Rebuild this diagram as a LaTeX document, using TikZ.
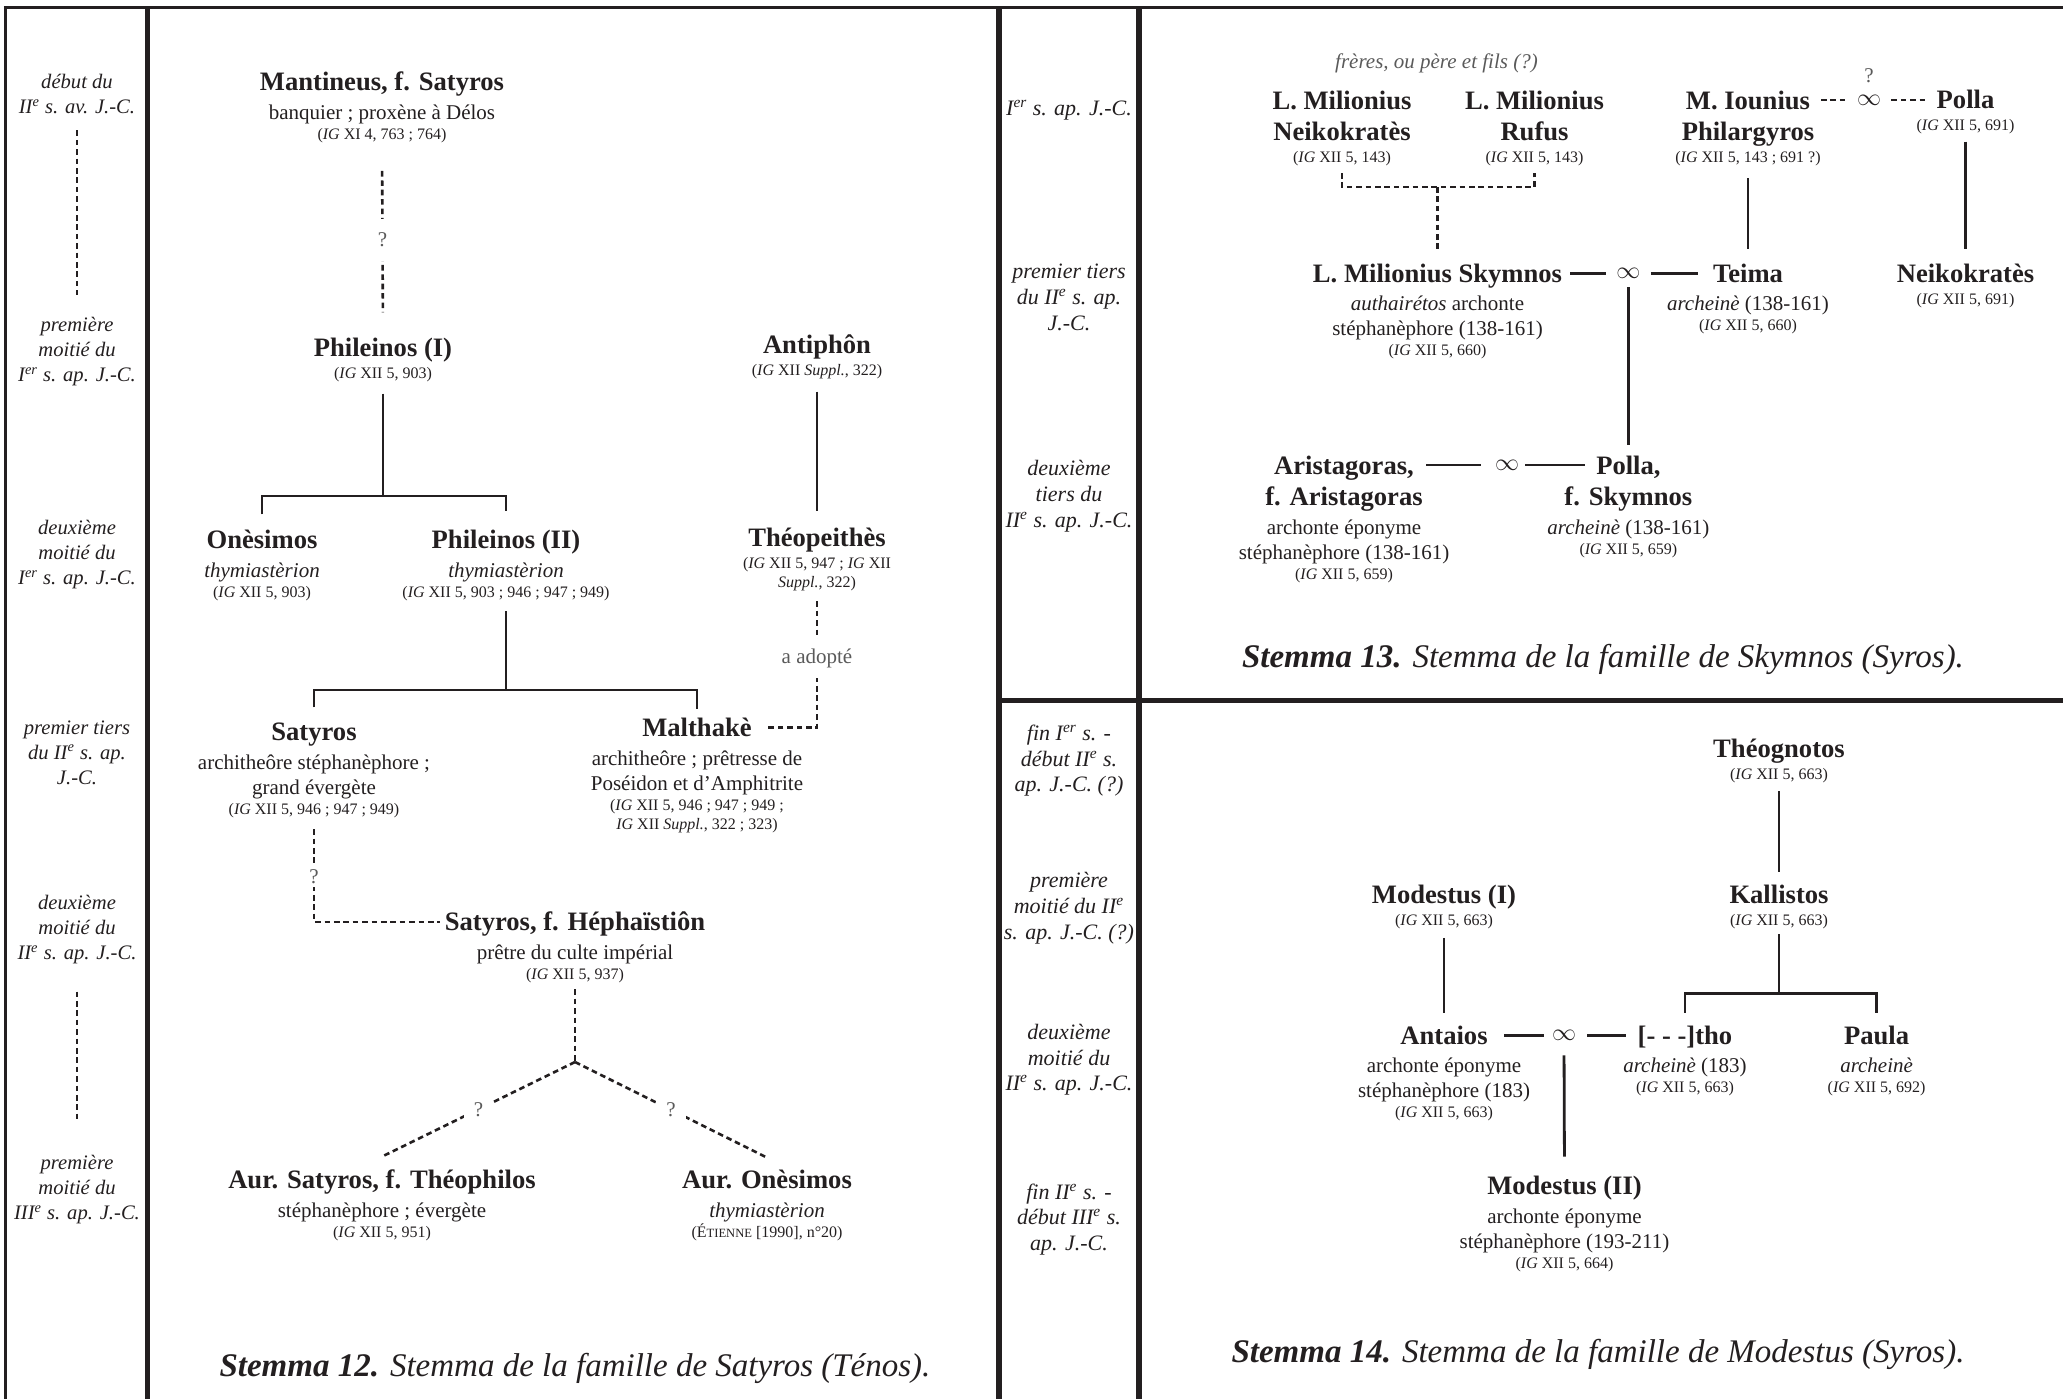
\documentclass[tikz,border=0pt]{standalone}
\usepackage{fontspec}
\setmainfont{Liberation Serif}
\usepackage{tikz}
\usetikzlibrary{positioning}
\definecolor{stink}{HTML}{231F20}
\definecolor{stgray}{HTML}{5A5A5A}
\newcommand{\nmfont}{\fontsize{13.3}{15.5}\selectfont\bfseries}
\newcommand{\dsfont}{\fontsize{10.5}{12.5}\selectfont}
\newcommand{\reff}{\fontsize{8}{12.5}\selectfont}
\newcommand{\IG}{\textit{IG}}
\newcommand{\sce}{\textsuperscript{e}}
\newcommand{\scer}{\textsuperscript{er}}
\tikzset{
  nm/.style={font=\nmfont,text=stink,inner sep=0pt,text height=9.5pt,text depth=0.7pt},
  nmm/.style={font=\nmfont,text=stink,inner sep=0pt,align=center,anchor=north},
  det/.style={font=\dsfont,text=stink,inner sep=0pt,align=center},
  datel/.style={font=\fontsize{10.3}{12.5}\selectfont\itshape,text=stink,inner sep=0pt,align=center,anchor=north},
  dater/.style={font=\fontsize{11}{12.9}\selectfont\itshape,text=stink,inner sep=0pt,align=center,anchor=north},
  inf/.style={font=\fontsize{12}{12}\selectfont,text=stink,inner sep=0pt},
  qm/.style={font=\fontsize{10.5}{12}\selectfont,text=stgray,fill=white,inner xsep=5pt,inner ysep=2pt},
  gnote/.style={font=\fontsize{10.5}{12}\selectfont\itshape,text=stgray,inner sep=0pt},
  capt/.style={font=\fontsize{16.5}{18}\selectfont\itshape,text=stink,inner sep=0pt},
  sline/.style={draw=stink,line width=1.4pt},
  dline/.style={draw=stink,line width=1.3pt,dash pattern=on 2.8pt off 1.9pt},
  bord/.style={draw=stink,line width=1.4pt},
  bordb/.style={draw=stink,line width=2.8pt},
}
\begin{document}
\begin{tikzpicture}[x=50pt,y=-50pt]
  \useasboundingbox (0,0) rectangle (20.63,13.99);
  \draw[bord] (0.04,0.075) -- (20.63,0.075);
  \draw[bord] (0.055,0.075) -- (0.055,13.99);
  \draw[bordb] (1.475,0.075) -- (1.475,13.99);
  \draw[bordb] (9.99,0.075) -- (9.99,13.99);
  \draw[bordb] (11.39,0.075) -- (11.39,13.99);
  \draw[bordb] (9.99,7.005) -- (20.63,7.005);

  \node[datel] (d12a) at (0.77,0.74) {début du\\II\sce{} s. av. J.-C.};
  \node[datel] (d12b) at (0.77,3.17) {première\\moitié du\\I\scer{} s. ap. J.-C.};
  \node[datel] (d12c) at (0.77,5.20) {deuxième\\moitié du\\I\scer{} s. ap. J.-C.};
  \node[datel] (d12d) at (0.77,7.20) {premier tiers\\du II\sce{} s. ap.\\J.-C.};
  \node[datel] (d12e) at (0.77,8.95) {deuxième\\moitié du\\II\sce{} s. ap. J.-C.};
  \node[datel] (d12f) at (0.77,11.55) {première\\moitié du\\III\sce{} s. ap. J.-C.};
  \draw[dline,shorten <=8pt,shorten >=11pt] (d12a.south) -- (d12b.north);
  \draw[dline,shorten <=13.5pt,shorten >=16pt] (d12e.south) -- (d12f.north);

  \node[nm] (mant) at (3.82,0.82) {Mantineus, f. Satyros};
  \node[det,below=5.75pt of mant] (mant-d) {banquier ; proxène à Délos\\[-2.5pt]\reff(\IG{} XI 4, 763 ; 764)};
  \node[nm] (phil1) at (3.83,3.48) {Phileinos (I)};
  \node[det,below=4.3pt of phil1] (phil1-d) {\reff(\IG{} XII 5, 903)};
  \node[nm] (antiph) at (8.17,3.45) {Antiphôn};
  \node[det,below=4.3pt of antiph] (antiph-d) {\reff(\IG{} XII \textit{Suppl.}, 322)};
  \node[nm] (onesi) at (2.62,5.40) {Onèsimos};
  \node[det,below=5.75pt of onesi] (onesi-d) {\textit{thymiastèrion}\\[-2.5pt]\reff(\IG{} XII 5, 903)};
  \node[nm] (phil2) at (5.06,5.40) {Phileinos (II)};
  \node[det,below=5.75pt of phil2] (phil2-d) {\textit{thymiastèrion}\\[-2.5pt]\reff(\IG{} XII 5, 903 ; 946 ; 947 ; 949)};
  \node[nm] (theop) at (8.17,5.38) {Théopeithès};
  \node[det,below=4.3pt of theop] (theop-d) {\reff(\IG{} XII 5, 947 ; \IG{} XII\\[-3pt]\reff\textit{Suppl.}, 322)};
  \node[nm] (satyr) at (3.14,7.32) {Satyros};
  \node[det,below=5.75pt of satyr] (satyr-d) {architheôre stéphanèphore ;\\grand évergète\\[-2.5pt]\reff(\IG{} XII 5, 946 ; 947 ; 949)};
  \node[nm] (malth) at (6.97,7.28) {Malthakè};
  \node[det,below=5.75pt of malth] (malth-d) {architheôre ; prêtresse de\\Poséidon et d'Amphitrite\\[-2.5pt]\reff(\IG{} XII 5, 946 ; 947 ; 949 ;\\[-3pt]\reff\IG{} XII \textit{Suppl.}, 322 ; 323)};
  \node[nm] (heph) at (5.75,9.22) {Satyros, f. Héphaïstiôn};
  \node[det,below=5.75pt of heph] (heph-d) {prêtre du culte impérial\\[-2.5pt]\reff(\IG{} XII 5, 937)};
  \node[nm] (aursat) at (3.82,11.80) {Aur. Satyros, f. Théophilos};
  \node[det,below=5.75pt of aursat] (aursat-d) {stéphanèphore ; évergète\\[-2.5pt]\reff(\IG{} XII 5, 951)};
  \node[nm] (auron) at (7.67,11.80) {Aur. Onèsimos};
  \node[det,below=5.75pt of auron] (auron-d) {\textit{thymiastèrion}\\[-2.5pt]\reff(É{\fontsize{6.3}{12.5}\selectfont TIENNE} [1990], n°20)};

  \draw[dline,shorten <=14pt,shorten >=12.5pt] (mant-d.south) -- node[qm,inner ysep=7pt] (q1) {?} (phil1.north);
  \coordinate (phil1-j) at (3.83,4.96);
  \draw[sline,shorten <=5.5pt] (phil1-d.south) -- (phil1-j);
  \draw[sline,shorten <=7.5pt,shorten >=9pt] (onesi.north) |- (phil1-j) -| (phil2.north);
  \coordinate (phil2-j) at (5.06,6.90);
  \draw[sline,shorten <=5.2pt] (phil2-d.south) -- (phil2-j);
  \draw[sline,shorten <=7pt,shorten >=4pt] (satyr.north) |- (phil2-j) -| (malth.north);
  \draw[sline,shorten <=6pt,shorten >=8pt] (antiph-d.south) -- (theop.north);
  \coordinate (adopt-c) at (8.17,7.275);
  \coordinate (malth-r) at (7.65,7.275);
  \draw[dline,shorten <=4.9pt] (theop-d.south) -- node[qm,pos=0.49,inner ysep=5pt] (adopt) {a adopté} (adopt-c) -- (malth-r);
  \coordinate (heph-l) at (4.40,9.22);
  \draw[dline,shorten <=5.6pt] (satyr-d.south) |- node[qm,pos=0.28] (q2) {?} (heph-l);
  \coordinate (heph-j) at (5.75,10.62);
  \draw[dline,shorten <=3.2pt] (heph-d.south) -- (heph-j);
  \draw[dline] (heph-j) -- node[qm] (q3) {?} ([yshift=6.4pt]aursat.north);
  \draw[dline] (heph-j) -- node[qm] (q4) {?} ([yshift=5.9pt]auron.north);
  \node[capt] (cap12) at (5.75,13.68) {\textbf{Stemma 12.} Stemma de la famille de Satyros (Ténos).};

  \node[dater] (d13a) at (10.69,1.003) {I\scer{} s. ap. J.-C.};
  \node[dater] (d13b) at (10.69,2.639) {premier tiers\\du II\sce{} s. ap.\\J.-C.};
  \node[dater] (d13c) at (10.69,4.60) {deuxième\\tiers du\\II\sce{} s. ap. J.-C.};

  \node[gnote] (mil-n) at (14.365,0.635) {frères, ou père et fils (?)};
  \node[nmm] (milN) at (13.42,0.908) {L. Milionius\\Neikokratès};
  \node[det,below=5pt of milN] (milN-d) {\reff(\IG{} XII 5, 143)};
  \node[nmm] (milR) at (15.345,0.908) {L. Milionius\\Rufus};
  \node[det,below=5pt of milR] (milR-d) {\reff(\IG{} XII 5, 143)};
  \node[nmm] (iounius) at (17.48,0.908) {M. Iounius\\Philargyros};
  \node[det,below=2.1pt of iounius] (iounius-d) {\reff(\IG{} XII 5, 143 ; 691 ?)};
  \node[inf] (m0) at (18.69,1.0) {$\infty$};
  \node[qm,fill=none,inner sep=0pt] (m0-q) at (18.69,0.76) {?};
  \node[nm] (pollaA) at (19.655,1.0) {Polla};
  \node[det,below=4.3pt of pollaA] (pollaA-d) {\reff(\IG{} XII 5, 691)};
  \node[nm] (skym) at (14.375,2.737) {L. Milionius Skymnos};
  \node[det,below=5.75pt of skym] (skym-d) {\textit{authairétos} archonte\\stéphanèphore (138-161)\\[-2.5pt]\reff(\IG{} XII 5, 660)};
  \node[inf] (m1) at (16.284,2.737) {$\infty$};
  \node[nm] (teima) at (17.48,2.737) {Teima};
  \node[det,below=5.75pt of teima] (teima-d) {\textit{archeinè} (138-161)\\[-2.5pt]\reff(\IG{} XII 5, 660)};
  \node[nm] (neikR) at (19.655,2.737) {Neikokratès};
  \node[det,below=4.3pt of neikR] (neikR-d) {\reff(\IG{} XII 5, 691)};
  \node[nmm] (arist) at (13.44,4.558) {Aristagoras,\\f. Aristagoras};
  \node[det,below=4pt of arist] (arist-d) {archonte éponyme\\stéphanèphore (138-161)\\[-2.5pt]\reff(\IG{} XII 5, 659)};
  \node[inf] (m2) at (15.07,4.65) {$\infty$};
  \node[nmm] (pollaS) at (16.284,4.558) {Polla,\\f. Skymnos};
  \node[det,below=4pt of pollaS] (pollaS-d) {\textit{archeinè} (138-161)\\[-2.5pt]\reff(\IG{} XII 5, 659)};

  \coordinate (iounius-e) at (18.21,1.0);
  \draw[dline,shorten >=5pt] (iounius-e) -- (m0.west);
  \draw[dline,shorten <=5pt,shorten >=5pt] (m0.east) -- (pollaA.west);
  \coordinate (mil-j) at (14.375,1.87);
  \draw[dline,shorten <=3.2pt,shorten >=3.2pt] (milN-d.south) |- (mil-j) -| (milR-d.south);
  \draw[dline,shorten >=6pt] (mil-j) -- (skym.north);
  \draw[sline,shorten <=6pt,shorten >=7pt] (iounius-d.south) -- (teima.north);
  \draw[sline,shorten <=3.5pt,shorten >=7pt] (pollaA-d.south) -- (neikR.north);
  \draw[sline,shorten <=4pt,shorten >=5pt] (skym.east) -- (m1.west);
  \draw[sline,shorten <=5pt,shorten >=7.5pt] (m1.east) -- (teima.west);
  \draw[sline,shorten <=4pt,shorten >=5.5pt] (m1.south) -- (pollaS.north);
  \coordinate (arist-e) at (14.26,4.65);
  \coordinate (pollaS-w) at (15.85,4.65);
  \draw[sline,shorten >=7pt] (arist-e) -- (m2.west);
  \draw[sline,shorten <=3pt] (m2.east) -- (pollaS-w);
  \node[capt] (cap13) at (16.03,6.59) {\textbf{Stemma 13.} Stemma de la famille de Skymnos (Syros).};

  \node[dater] (d14a) at (10.69,7.243) {fin I\scer{} s. -\\début II\sce{} s.\\ap. J.-C. (?)};
  \node[dater] (d14b) at (10.69,8.719) {première\\moitié du II\sce\\s. ap. J.-C. (?)};
  \node[dater] (d14c) at (10.69,10.235) {deuxième\\moitié du\\II\sce{} s. ap. J.-C.};
  \node[dater] (d14d) at (10.69,11.832) {fin II\sce{} s. -\\début III\sce{} s.\\ap. J.-C.};

  \node[nm] (theog) at (17.79,7.485) {Théognotos};
  \node[det,below=4.3pt of theog] (theog-d) {\reff(\IG{} XII 5, 663)};
  \node[nm] (kall) at (17.79,8.947) {Kallistos};
  \node[det,below=4.3pt of kall] (kall-d) {\reff(\IG{} XII 5, 663)};
  \node[nm] (modI) at (14.44,8.947) {Modestus (I)};
  \node[det,below=4.3pt of modI] (modI-d) {\reff(\IG{} XII 5, 663)};
  \node[nm] (antai) at (14.44,10.355) {Antaios};
  \node[det,below=5.75pt of antai] (antai-d) {archonte éponyme\\stéphanèphore (183)\\[-2.5pt]\reff(\IG{} XII 5, 663)};
  \node[inf] (m3) at (15.64,10.355) {$\infty$};
  \node[nm] (tho) at (16.85,10.355) {[- - -]tho};
  \node[det,below=5.75pt of tho] (tho-d) {\textit{archeinè} (183)\\[-2.5pt]\reff(\IG{} XII 5, 663)};
  \node[nm] (paula) at (18.766,10.355) {Paula};
  \node[det,below=5.75pt of paula] (paula-d) {\textit{archeinè}\\[-2.5pt]\reff(\IG{} XII 5, 692)};
  \node[nm] (modII) at (15.645,11.86) {Modestus (II)};
  \node[det,below=5.75pt of modII] (modII-d) {archonte éponyme\\stéphanèphore (193-211)\\[-2.5pt]\reff(\IG{} XII 5, 664)};

  \draw[sline,shorten <=4.2pt,shorten >=6.2pt] (theog-d.south) -- (kall.north);
  \coordinate (kall-j) at (17.79,9.936);
  \draw[sline,shorten <=2.6pt] (kall-d.south) -- (kall-j);
  \draw[sline,shorten <=6.2pt,shorten >=6.2pt] (tho.north) |- (kall-j) -| (paula.north);
  \draw[sline,shorten <=4.3pt,shorten >=6.2pt] (modI-d.south) -- (antai.north);
  \draw[sline,shorten <=8pt,shorten >=4pt] (antai.east) -- (m3.west);
  \draw[sline,shorten <=5.5pt,shorten >=5.9pt] (m3.east) -- (tho.west);
  \draw[sline,shorten <=7.2pt,shorten >=9.4pt] (m3.south) -- (modII.north);
  \node[capt] (cap14) at (15.98,13.54) {\textbf{Stemma 14.} Stemma de la famille de Modestus (Syros).};
\end{tikzpicture}
\end{document}
